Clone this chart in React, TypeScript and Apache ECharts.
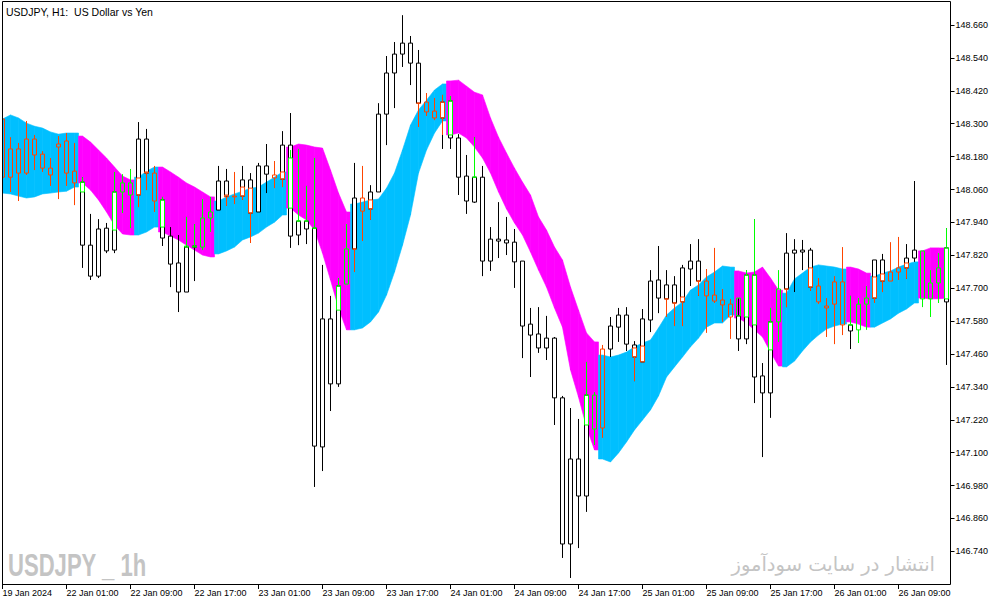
import { useEffect, useRef } from 'react';
import * as echarts from 'echarts';

const xTickLabels = ['19 Jan 2024', '22 Jan 01:00', '22 Jan 09:00', '22 Jan 17:00', '23 Jan 01:00', '23 Jan 09:00', '23 Jan 17:00', '24 Jan 01:00', '24 Jan 09:00', '24 Jan 17:00', '25 Jan 01:00', '25 Jan 09:00', '25 Jan 17:00', '26 Jan 01:00', '26 Jan 09:00'];
const yTicks = [148.66, 148.54, 148.42, 148.3, 148.18, 148.06, 147.94, 147.82, 147.7, 147.58, 147.46, 147.34, 147.22, 147.1, 146.98, 146.86, 146.74];

const openP = [
  148.317, 148.105, 148.208, 148.120, 148.244, 148.189, 148.138, 148.215, 148.237, 148.127,
  148.087, 147.857, 147.744, 147.919, 147.839, 148.051, 148.084, 148.040, 148.244, 148.120,
  148.022, 147.890, 147.792, 147.686, 147.850, 147.850, 147.956, 147.985, 148.091, 148.036,
  148.036, 148.095, 147.978, 148.146, 148.113, 148.098, 148.222, 147.894, 147.945, 147.919,
  147.121, 147.588, 147.351, 147.715, 147.843, 148.029, 147.989, 148.051, 148.335, 148.485,
  148.554, 148.594, 148.521, 148.379, 148.346, 148.321, 148.383, 148.248, 148.109, 148.014,
  148.105, 147.799, 147.879, 147.876, 147.868, 147.799, 147.569, 147.533, 147.482, 147.518,
  147.300, 146.767, 147.077, 146.942, 147.310, 147.190, 147.478, 147.558, 147.602, 147.493,
  147.431, 147.584, 147.730, 147.661, 147.712, 147.650, 147.770, 147.799, 147.726, 147.675,
  147.657, 147.642, 147.599, 147.515, 147.748, 147.380, 147.318, 147.577, 147.697, 147.828,
  147.839, 147.839, 147.708, 147.635, 147.642, 147.723, 147.566, 147.548, 147.642, 147.664,
  147.803, 147.726, 147.759, 147.774, 147.810, 147.836, 147.661, 147.719, 147.847
];
const closeP = [
  148.105, 148.208, 148.120, 148.244, 148.186, 148.138, 148.113, 148.226, 148.120, 148.084,
  147.857, 147.744, 147.916, 147.836, 148.051, 148.084, 148.040, 148.244, 148.120, 148.018,
  147.883, 147.788, 147.686, 147.850, 147.854, 147.956, 147.978, 148.091, 148.036, 148.033,
  148.095, 147.974, 148.146, 148.116, 148.102, 148.222, 147.890, 147.945, 147.916, 147.124,
  147.588, 147.351, 147.708, 147.843, 148.029, 147.981, 148.051, 148.335, 148.485, 148.554,
  148.594, 148.521, 148.375, 148.343, 148.321, 148.379, 148.248, 148.105, 148.018, 148.105,
  147.799, 147.879, 147.872, 147.865, 147.796, 147.562, 147.529, 147.482, 147.518, 147.300,
  146.767, 147.077, 146.942, 147.310, 147.186, 147.478, 147.562, 147.602, 147.496, 147.449,
  147.588, 147.726, 147.664, 147.712, 147.646, 147.774, 147.799, 147.726, 147.672, 147.653,
  147.639, 147.595, 147.515, 147.748, 147.376, 147.318, 147.577, 147.697, 147.828, 147.839,
  147.832, 147.704, 147.650, 147.628, 147.723, 147.566, 147.544, 147.642, 147.664, 147.803,
  147.726, 147.759, 147.774, 147.810, 147.839, 147.661, 147.719, 147.774, 147.650
];
const highP = [
  148.332, 148.251, 148.230, 148.310, 148.259, 148.200, 148.175, 148.255, 148.266, 148.230,
  148.105, 147.971, 147.952, 147.938, 148.124, 148.116, 148.135, 148.306, 148.281, 148.146,
  148.033, 147.923, 147.894, 147.960, 147.934, 148.025, 148.033, 148.146, 148.135, 148.124,
  148.146, 148.120, 148.157, 148.226, 148.164, 148.273, 148.339, 148.208, 148.073, 148.175,
  147.785, 147.672, 147.737, 147.934, 148.157, 148.146, 148.076, 148.375, 148.547, 148.598,
  148.696, 148.620, 148.569, 148.412, 148.394, 148.405, 148.401, 148.262, 148.186, 148.251,
  148.146, 147.923, 148.014, 147.960, 147.916, 147.799, 147.628, 147.631, 147.599, 147.522,
  147.307, 147.263, 147.223, 147.431, 147.321, 147.493, 147.595, 147.628, 147.631, 147.507,
  147.624, 147.766, 147.854, 147.766, 147.744, 147.785, 147.861, 147.879, 147.770, 147.847,
  147.697, 147.661, 147.664, 147.766, 147.952, 147.427, 147.628, 147.766, 147.901, 147.879,
  147.876, 147.847, 147.737, 147.664, 147.744, 147.850, 147.672, 147.664, 147.708, 147.803,
  147.825, 147.868, 147.887, 147.861, 148.091, 147.836, 147.766, 147.828, 147.919
];
const lowP = [
  148.095, 148.051, 148.018, 148.113, 148.131, 148.124, 148.073, 148.025, 148.073, 148.003,
  147.774, 147.730, 147.737, 147.828, 147.828, 147.974, 147.919, 147.996, 148.058, 147.978,
  147.854, 147.704, 147.613, 147.686, 147.726, 147.839, 147.905, 147.985, 148.000, 148.007,
  148.022, 147.865, 147.978, 148.047, 148.065, 148.069, 147.847, 147.857, 147.861, 146.975,
  147.033, 147.252, 147.340, 147.715, 147.759, 147.872, 147.949, 148.051, 148.222, 148.357,
  148.507, 148.441, 148.288, 148.328, 148.313, 148.208, 148.208, 148.040, 147.971, 148.011,
  147.744, 147.763, 147.810, 147.821, 147.701, 147.445, 147.376, 147.464, 147.438, 147.201,
  146.716, 146.643, 146.752, 146.884, 147.128, 147.154, 147.449, 147.504, 147.471, 147.361,
  147.431, 147.540, 147.609, 147.595, 147.562, 147.562, 147.708, 147.672, 147.537, 147.646,
  147.577, 147.515, 147.471, 147.496, 147.281, 147.084, 147.227, 147.504, 147.631, 147.686,
  147.766, 147.690, 147.642, 147.522, 147.496, 147.529, 147.478, 147.500, 147.548, 147.646,
  147.686, 147.726, 147.730, 147.734, 147.796, 147.631, 147.595, 147.646, 147.420
];
// k = black/white, r = red, g = green
const candleColor = (
  'rrrrrrrrrr' + 'kkkkkggkkr' + 'kkkkkggkkr' + 'kkkkrkkkkk' + 'kkkgkrkkkk' +
  'kkkrrkkkkk' + 'kkkkkkkkkk' + 'kkkkgrkkkk' + 'kkkkkkkkrr' + 'rrkkkkkgkk' +
  'kkrrrrkggk' + 'krrkkgggk'
).split('');

// partially coloured candles drawn over the base candles
const ovIndex = [10, 14, 17, 18, 20, 23, 24, 28, 30, 31, 35, 36, 37, 38, 39, 42, 44, 46, 52, 55, 56, 59, 73, 79, 80, 83, 84, 85, 87, 92, 93, 94, 96, 98, 101, 106, 109, 110, 113, 118];
const ovColor = ['g', 'g', 'r', 'r', 'g', 'g', 'g', 'r', 'r', 'r', 'r', 'g', 'g', 'g', 'g', 'g', 'r', 'r', 'r', 'r', 'g', 'g', 'g', 'r', 'r', 'r', 'r', 'r', 'r', 'g', 'g', 'g', 'g', 'r', 'r', 'g', 'r', 'r', 'r', 'g'];
const ovOpen = [148.087, 147.912, 148.040, 148.124, 148.022, 147.850, 147.850, 148.040, 148.036, 148.065, 148.098, 148.175, 147.945, 147.945, 147.919, 147.620, 147.843, 147.989, 148.375, 148.321, 148.383, 148.105, 147.201, 147.482, 147.431, 147.661, 147.646, 147.650, 147.726, 147.599, 147.595, 147.748, 147.475, 147.697, 147.774, 147.566, 147.664, 147.752, 147.774, 147.847];
const ovClose = [148.051, 148.051, 148.102, 148.120, 147.923, 147.854, 147.854, 148.033, 148.069, 147.974, 148.124, 147.992, 147.945, 147.945, 147.919, 147.708, 147.843, 148.022, 148.375, 148.379, 148.259, 148.105, 147.310, 147.449, 147.489, 147.661, 147.646, 147.668, 147.726, 147.664, 147.748, 147.566, 147.577, 147.697, 147.704, 147.566, 147.741, 147.726, 147.792, 147.661];
const ovHigh = [148.105, 148.124, 148.102, 148.124, 148.033, 147.960, 147.934, 148.040, 148.069, 148.065, 148.124, 148.204, 148.208, 148.073, 148.175, 147.737, 147.843, 148.022, 148.375, 148.405, 148.401, 148.251, 147.431, 147.482, 147.489, 147.661, 147.646, 147.668, 147.726, 147.664, 147.766, 147.952, 147.628, 147.697, 147.774, 147.672, 147.741, 147.752, 147.792, 147.919];
const ovLow = [148.051, 147.912, 147.996, 148.058, 147.923, 147.850, 147.850, 148.000, 148.022, 147.865, 148.069, 147.992, 147.945, 147.945, 147.919, 147.620, 147.759, 147.949, 148.288, 148.259, 148.259, 148.105, 147.201, 147.361, 147.431, 147.595, 147.562, 147.562, 147.672, 147.599, 147.595, 147.566, 147.475, 147.631, 147.690, 147.566, 147.646, 147.686, 147.734, 147.661];

const bandUp = [
  148.317, 148.332, 148.321, 148.302, 148.291, 148.284, 148.270, 148.262, 148.266, 148.266,
  148.255, 148.233, 148.204, 148.175, 148.142, 148.109, 148.095, 148.105, 148.127, 148.142,
  148.142, 148.124, 148.105, 148.084, 148.069, 148.051, 148.033, 148.018, 148.033, 148.044,
  148.054, 148.065, 148.069, 148.087, 148.105, 148.124, 148.215, 148.226, 148.222, 148.215,
  148.211, 148.131, 148.047, 147.978, 148.007, 148.014, 148.022, 148.025, 148.065, 148.120,
  148.204, 148.295, 148.350, 148.386, 148.423, 148.445, 148.456, 148.459, 148.437, 148.415,
  148.405, 148.321, 148.251, 148.193, 148.138, 148.087, 148.040, 147.960, 147.912, 147.850,
  147.803, 147.704, 147.620, 147.537, 147.504, 147.456, 147.449, 147.456, 147.467, 147.486,
  147.500, 147.511, 147.555, 147.602, 147.628, 147.650, 147.693, 147.712, 147.741, 147.759,
  147.781, 147.777, 147.763, 147.755, 147.759, 147.777, 147.737, 147.693, 147.682, 147.734,
  147.755, 147.777, 147.785, 147.781, 147.777, 147.770, 147.777, 147.770, 147.755, 147.744,
  147.755, 147.763, 147.777, 147.788, 147.796, 147.836, 147.847, 147.847, 147.847
];
const bandLo = [
  148.047, 148.044, 148.036, 148.029, 148.033, 148.044, 148.047, 148.051, 148.054, 148.069,
  148.084, 148.058, 148.022, 147.978, 147.930, 147.898, 147.894, 147.894, 147.905, 147.923,
  147.905, 147.890, 147.876, 147.857, 147.839, 147.821, 147.814, 147.825, 147.836, 147.850,
  147.876, 147.887, 147.901, 147.923, 147.941, 147.967, 147.992, 147.967, 147.949, 147.912,
  147.828, 147.730, 147.628, 147.548, 147.548, 147.555, 147.577, 147.613, 147.675, 147.759,
  147.857, 147.967, 148.120, 148.204, 148.266, 148.310, 148.259, 148.266, 148.248, 148.215,
  148.175, 148.120, 148.051, 147.989, 147.938, 147.894, 147.832, 147.766, 147.704, 147.628,
  147.558, 147.402, 147.303, 147.194, 147.110, 147.077, 147.066, 147.099, 147.139, 147.183,
  147.219, 147.256, 147.307, 147.376, 147.413, 147.449, 147.486, 147.518, 147.558, 147.573,
  147.573, 147.602, 147.591, 147.573, 147.548, 147.522, 147.467, 147.416, 147.413, 147.434,
  147.471, 147.504, 147.529, 147.551, 147.562, 147.569, 147.577, 147.569, 147.558, 147.558,
  147.573, 147.588, 147.609, 147.624, 147.646, 147.664, 147.661, 147.661, 147.664
];
// c = rising (blue), m = falling (magenta)
const bandTrend = [
  'cccccccccc', 'mmmmmmm', 'ccc', 'mmmmmmm', 'ccccccccc', 'mmmmmmmm', 'cccccccccccc',
  'mmmmmmmmmmmmmmmmmmm', 'ccccccccccccccccc', 'mmmmmm', 'cccccccc', 'mmm', 'cccccc', 'mmmm'
].join('').split('');

const N = openP.length;
const categories: string[] = [];
for (let i = 0; i < N; i++) {
  if (i < 7) categories.push('19 Jan ' + String(17 + i).padStart(2, '0') + ':00');
  else {
    const h = i - 7;
    categories.push(String(22 + Math.floor(h / 24)) + ' Jan ' + String(h % 24).padStart(2, '0') + ':00');
  }
}

const RED = '#ff4500';
const GREEN = '#00ff00';
const BAND = { c: '#00bfff', m: '#ff00ff' } as Record<string, string>;
const clear = 'rgba(255,255,255,0)';
const candleStyles: Record<string, any> = {
  k: { color: '#ffffff', color0: '#000000', borderColor: '#000000', borderColor0: '#000000', borderColorDoji: '#000000', borderWidth: 1 },
  r: { color: clear, color0: RED, borderColor: RED, borderColor0: RED, borderColorDoji: RED, borderWidth: 1 },
  g: { color: clear, color0: GREEN, borderColor: GREEN, borderColor0: GREEN, borderColorDoji: GREEN, borderWidth: 1 },
};

export default function App() {
  const ref = useRef<HTMLDivElement>(null);
  useEffect(() => {
    const chart = echarts.init(ref.current!, null, { renderer: 'svg' });
    const baseData = openP.map((o, i) => ({
      value: [o, closeP[i], lowP[i], highP[i]],
      itemStyle: candleStyles[candleColor[i]],
    }));
    const ovData: any[] = categories.map(() => '-');
    ovIndex.forEach((idx, j) => {
      ovData[idx] = {
        value: [ovOpen[j], ovClose[j], ovLow[j], ovHigh[j]],
        itemStyle: candleStyles[ovColor[j]],
      };
    });
    const bandData = bandUp.map((u, i) => [i, u, bandLo[i]]);
    const option: any = {
      animation: false,
      backgroundColor: '#ffffff',
      grid: { left: 2.5, top: 2, width: 944, height: 582, containLabel: false, outerBoundsMode: 'none' },
      xAxis: {
        type: 'category',
        data: categories,
        boundaryGap: false,
        axisLine: { show: false },
        axisTick: { show: true, interval: (i: number) => i % 8 === 0, length: 5, lineStyle: { color: '#000', width: 1 } },
        axisLabel: {
          interval: (i: number) => i % 8 === 0,
          formatter: (_v: string, i: number) => xTickLabels[Math.round(i / 8)] ?? '',
          align: 'left',
          margin: 4,
          fontSize: 9,
          fontFamily: 'Liberation Sans, Arial, sans-serif',
          color: '#000',
        },
        splitLine: { show: false },
      },
      yAxis: {
        type: 'value',
        position: 'right',
        offset: 4,
        min: 146.621,
        max: 148.744,
        scale: true,
        axisLine: { show: false },
        axisTick: { show: true, customValues: yTicks, length: 4, lineStyle: { color: '#000', width: 1 } },
        axisLabel: {
          customValues: yTicks,
          formatter: (v: number) => v.toFixed(3),
          margin: 5,
          fontSize: 9,
          fontFamily: 'Liberation Sans, Arial, sans-serif',
          color: '#000',
        },
        splitLine: { show: false },
      },
      series: [
        {
          type: 'custom',
          z: 1,
          clip: false,
          silent: true,
          data: bandData,
          encode: { x: 0, y: [1, 2] },
          renderItem: (params: any, api: any) => {
            const i = params.dataIndex;
            if (i >= N - 1) return null;
            const a = api.coord([i, bandUp[i]]);
            const b = api.coord([i, bandLo[i]]);
            const c = api.coord([i + 1, bandUp[i + 1]]);
            const d = api.coord([i + 1, bandLo[i + 1]]);
            const c0 = BAND[bandTrend[i]];
            const c1 = BAND[bandTrend[i + 1]];
            if (c0 === c1) {
              return {
                type: 'polygon',
                shape: { points: [a, c, d, b] },
                style: { fill: c0, stroke: c0, lineWidth: 0.6 },
              };
            }
            const mx = (a[0] + c[0]) / 2;
            return {
              type: 'group',
              children: [
                { type: 'polygon', shape: { points: [a, [mx, a[1]], [mx, b[1]], b] }, style: { fill: c0, stroke: c0, lineWidth: 0.6 } },
                { type: 'polygon', shape: { points: [[mx, c[1]], c, d, [mx, d[1]]] }, style: { fill: c1, stroke: c1, lineWidth: 0.6 } },
              ],
            };
          },
        },
        {
          type: 'candlestick',
          z: 2,
          clip: false,
          silent: true,
          barWidth: 4,
          data: baseData,
        },
        {
          type: 'candlestick',
          z: 3,
          clip: false,
          silent: true,
          barWidth: 4,
          data: ovData,
        },
      ],
      graphic: [
        { type: 'rect', z: 50, silent: true, shape: { x: 0, y: 0, width: 2, height: 585 }, style: { fill: '#ffffff' } },
        { type: 'rect', z: 51, silent: true, shape: { x: 2.5, y: 1.5, width: 948, height: 583 }, style: { fill: 'none', stroke: '#000', lineWidth: 1 } },
        { type: 'text', z: 52, silent: true, x: 6, y: 12, style: { text: 'USDJPY, H1:  US Dollar vs Yen', fontSize: 10.5, fontFamily: 'Liberation Sans, Arial, sans-serif', fill: '#000', verticalAlign: 'middle' } },
        { type: 'text', z: 52, silent: true, x: 8, y: 565, scaleX: 0.69, style: { text: 'USDJPY _ 1h', font: 'bold 32px "Liberation Sans", Arial, sans-serif', fill: '#c4c4c4', verticalAlign: 'middle' } },
        { type: 'text', z: 52, silent: true, x: 935, y: 564, style: { text: 'انتشار در سایت سودآموز', font: '19.5px "DejaVu Sans", "Noto Sans", sans-serif', fill: '#c4c4c4', align: 'right', verticalAlign: 'middle' } },
      ],
    };
    chart.setOption(option);
    return () => chart.dispose();
  }, []);
  return <div ref={ref} style={{ position: 'fixed', left: 0, top: 0, width: 1003, height: 605, background: '#fff' }} />;
}
